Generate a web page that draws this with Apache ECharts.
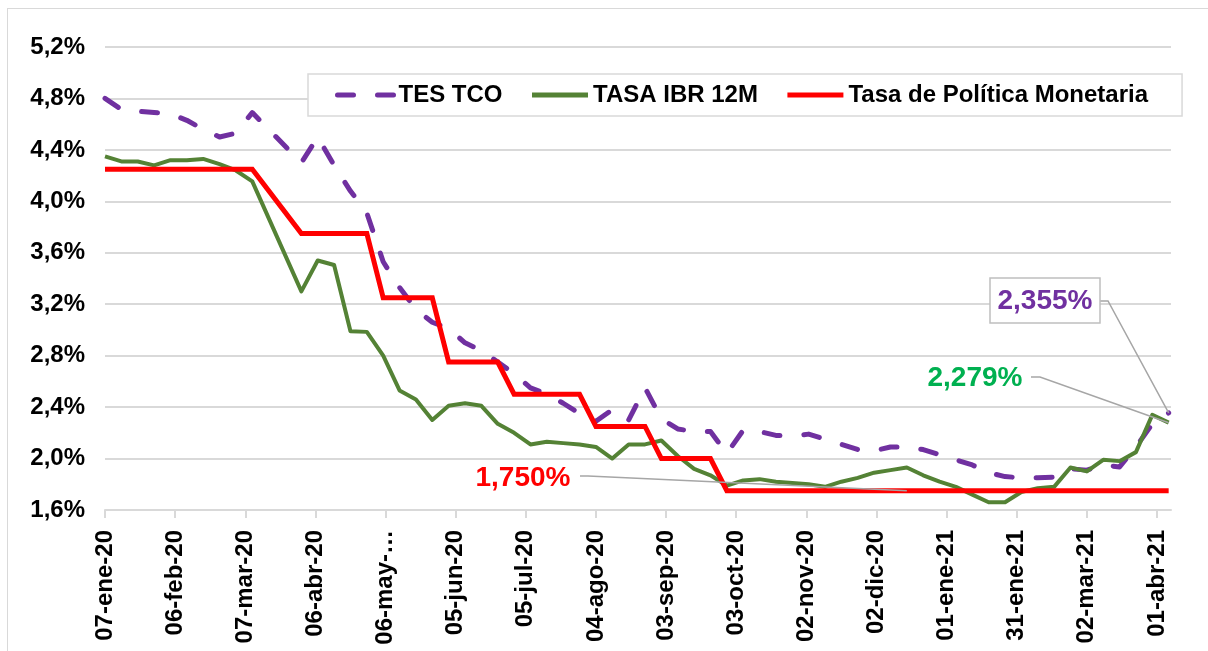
<!DOCTYPE html>
<html>
<head>
<meta charset="utf-8">
<script src="https://cdn.jsdelivr.net/npm/echarts@6/dist/echarts.min.js"></script>
<style>
html,body{margin:0;padding:0;background:#fff;overflow:hidden;}
#frame{position:absolute;left:7px;top:8px;width:1230px;height:680px;border-left:1.5px solid #d9d9d9;border-top:1.5px solid #d9d9d9;}
#chart{position:absolute;left:0;top:0;width:1208px;height:651px;}
</style>
</head>
<body>
<div id="frame"></div>
<div id="chart"></div>
<script>
// Weekly observation dates (two March 2020 weeks are absent; the lines join across them)
const dates = [
 '2020-01-07','2020-01-14','2020-01-21','2020-01-28','2020-02-04','2020-02-11','2020-02-18','2020-02-25',
 '2020-03-03','2020-03-10','2020-03-31','2020-04-07','2020-04-14','2020-04-21','2020-04-28',
 '2020-05-05','2020-05-12','2020-05-19','2020-05-26','2020-06-02','2020-06-09','2020-06-16','2020-06-23','2020-06-30',
 '2020-07-07','2020-07-14','2020-07-21','2020-07-28','2020-08-04','2020-08-11','2020-08-18','2020-08-25',
 '2020-09-01','2020-09-08','2020-09-15','2020-09-22','2020-09-29','2020-10-06','2020-10-13','2020-10-20','2020-10-27',
 '2020-11-03','2020-11-10','2020-11-17','2020-11-24','2020-12-01','2020-12-08','2020-12-15','2020-12-22','2020-12-29',
 '2021-01-05','2021-01-12','2021-01-19','2021-01-26','2021-02-02','2021-02-09','2021-02-16','2021-02-23',
 '2021-03-02','2021-03-09','2021-03-16','2021-03-23','2021-03-30','2021-04-06'
];
const tesTCO = [
 4.80,4.715,4.70,4.69,4.68,4.63,4.56,4.50,
 4.53,4.69,4.30,4.50,4.28,4.08,3.91,
 3.53,3.33,3.16,3.06,3.01,2.90,2.84,2.75,2.66,
 2.55,2.50,2.43,2.35,2.29,2.38,2.30,2.55,
 2.31,2.23,2.21,2.21,2.04,2.22,2.21,2.18,2.175,
 2.19,2.15,2.11,2.07,2.06,2.09,2.09,2.07,2.03,
 1.99,1.95,1.89,1.86,1.85,1.85,1.855,1.92,
 1.91,1.95,1.935,2.09,2.27,2.355
];
const ibr12M = [
 4.35,4.31,4.31,4.28,4.32,4.32,4.33,4.29,
 4.24,4.155,3.30,3.54,3.505,2.99,2.985,
 2.80,2.53,2.46,2.30,2.41,2.43,2.41,2.27,2.20,
 2.11,2.13,2.12,2.11,2.09,2.00,2.11,2.11,
 2.14,2.02,1.92,1.87,1.79,1.83,1.84,1.82,1.81,
 1.80,1.78,1.82,1.85,1.89,1.91,1.93,1.87,1.82,
 1.78,1.72,1.66,1.66,1.74,1.77,1.78,1.93,
 1.90,1.99,1.98,2.05,2.34,2.279
];
const tpm = [
 4.25,4.25,4.25,4.25,4.25,4.25,4.25,4.25,
 4.25,4.25,3.75,3.75,3.75,3.75,3.75,
 3.25,3.25,3.25,3.25,2.75,2.75,2.75,2.75,2.50,
 2.50,2.50,2.50,2.50,2.25,2.25,2.25,2.25,
 2.00,2.00,2.00,2.00,1.75,1.75,1.75,1.75,1.75,
 1.75,1.75,1.75,1.75,1.75,1.75,1.75,1.75,1.75,
 1.75,1.75,1.75,1.75,1.75,1.75,1.75,1.75,
 1.75,1.75,1.75,1.75,1.75,1.75
];
const seriesNames = ['TES TCO', 'TASA IBR 12M', 'Tasa de Política Monetaria'];
const xTickDays = [0,30,60,90,120,150,180,210,240,270,300,330,360,390,420,450];
const xTickLabels = ['07-ene-20','06-feb-20','07-mar-20','06-abr-20','06-may-…','05-jun-20','05-jul-20','04-ago-20',
 '03-sep-20','03-oct-20','02-nov-20','02-dic-20','01-ene-21','31-ene-21','02-mar-21','01-abr-21'];
const calloutTexts = ['2,355%', '2,279%', '1,750%'];
const tpmCalloutDate = '2020-12-15';

const FONT = "'Liberation Sans', Arial, sans-serif";
const START = Date.UTC(2020, 0, 7);
const day = s => (Date.UTC(+s.slice(0,4), +s.slice(5,7) - 1, +s.slice(8,10)) - START) / 864e5;
const pts = arr => dates.map((d, i) => [day(d), arr[i]]);

const chart = echarts.init(document.getElementById('chart'), null, {renderer: 'canvas'});
const axisFont = {fontFamily: FONT, fontSize: 24, fontWeight: 'bold', color: '#000'};

chart.setOption({
  animation: false,
  grid: {left: 105, right: 37, top: 47, bottom: 141, containLabel: false},
  legend: {
    data: seriesNames, left: 308, top: 74,
    itemWidth: 56, itemHeight: 14, itemGap: 27,
    padding: [9, 34, 9, 27],
    backgroundColor: '#fff', borderColor: '#d9d9d9', borderWidth: 1.5,
    itemStyle: {color: 'rgba(0,0,0,0)', borderWidth: 0, opacity: 0},
    lineStyle: {width: 5},
    textStyle: {fontFamily: FONT, fontSize: 24, fontWeight: 'bold', color: '#000'}
  },
  xAxis: {
    type: 'value', min: 0, max: 456, interval: 30,
    axisLine: {show: true, lineStyle: {color: '#d9d9d9', width: 2}},
    axisTick: {show: true, length: 8, customValues: xTickDays, lineStyle: {color: '#d9d9d9', width: 2}},
    splitLine: {show: false},
    axisLabel: Object.assign({
      customValues: xTickDays, rotate: 90, margin: 20,
      formatter: v => { const k = xTickDays.indexOf(Math.round(v)); return k >= 0 ? xTickLabels[k] : ''; }
    }, axisFont)
  },
  yAxis: {
    type: 'value', min: 1.6, max: 5.2, interval: 0.4,
    axisLine: {show: false}, axisTick: {show: false},
    splitLine: {lineStyle: {color: '#d9d9d9', width: 2}},
    axisLabel: Object.assign({margin: 20, formatter: v => v.toFixed(1).replace('.', ',') + '%'}, axisFont)
  },
  series: [
    {name: seriesNames[0], type: 'line', data: pts(tesTCO), symbol: 'none', showSymbol: false,
     lineStyle: {color: '#7030A0', width: 5, type: [16, 24], cap: 'round', join: 'round'},
     itemStyle: {color: '#7030A0'}, emphasis: {disabled: true}, z: 2},
    {name: seriesNames[1], type: 'line', data: pts(ibr12M), symbol: 'none', showSymbol: false,
     lineStyle: {color: '#548235', width: 4, join: 'round'},
     itemStyle: {color: '#548235'}, emphasis: {disabled: true}, z: 3},
    {name: seriesNames[2], type: 'line', data: pts(tpm), symbol: 'none', showSymbol: false,
     lineStyle: {color: '#FF0000', width: 5, join: 'miter'},
     itemStyle: {color: '#FF0000'}, emphasis: {disabled: true}, z: 4}
  ]
});

const last = dates.length - 1;
const pT = chart.convertToPixel({gridIndex: 0}, [day(dates[last]), tesTCO[last]]);
const pG = chart.convertToPixel({gridIndex: 0}, [day(dates[last]), ibr12M[last]]);
const ri = dates.indexOf(tpmCalloutDate);
const pR = chart.convertToPixel({gridIndex: 0}, [day(dates[ri]), tpm[ri]]);
const lead = {stroke: '#a6a6a6', lineWidth: 1.5, fill: null};
const cFont = 'bold 28px ' + FONT;

chart.setOption({
  graphic: [
    {type: 'rect', z: 100, shape: {x: 990, y: 278, width: 110, height: 45},
     style: {fill: '#fff', stroke: '#bfbfbf', lineWidth: 1.5}},
    {type: 'text', z: 101, x: 1045, y: 301,
     style: {text: calloutTexts[0], font: cFont, fill: '#7030A0', align: 'center', verticalAlign: 'middle'}},
    {type: 'polyline', z: 99, shape: {points: [[1100, 301], [1108, 301], pT]}, style: lead},
    {type: 'text', z: 101, x: 975, y: 378,
     style: {text: calloutTexts[1], font: cFont, fill: '#00B050', align: 'center', verticalAlign: 'middle'}},
    {type: 'polyline', z: 99, shape: {points: [[1031, 377], [1040, 377], pG]}, style: lead},
    {type: 'text', z: 101, x: 523, y: 478,
     style: {text: calloutTexts[2], font: cFont, fill: '#FF0000', align: 'center', verticalAlign: 'middle'}},
    {type: 'polyline', z: 99, shape: {points: [[580, 476], [588, 476], pR]}, style: lead}
  ]
});
</script>
</body>
</html>
